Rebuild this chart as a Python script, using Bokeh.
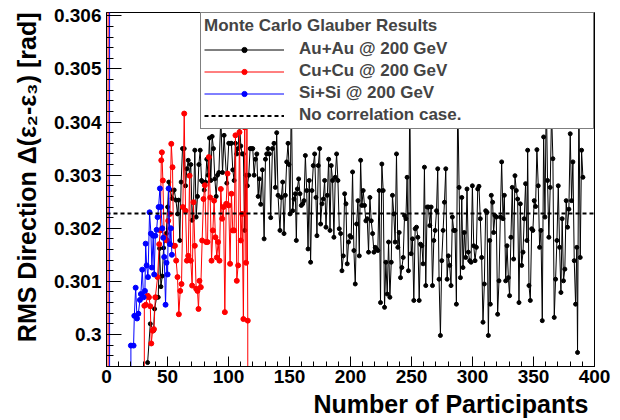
from bokeh.plotting import figure
from bokeh.models import (Range1d, SingleIntervalTicker, NumeralTickFormatter,
                          Legend, LegendItem, Title)
from bokeh.embed import file_html
from bokeh.resources import INLINE

# ---------------- data ----------------
auau_npart = [33.7, 35.9, 38.6, 39.4, 41.1, 42.4, 43.5, 44.6, 45.7, 46.8, 47.9, 49.0, 50.1, 51.1,
              52.2, 53.9, 55.5, 56.9, 58.2, 59.1, 60.1, 61.2, 62.3, 63.7, 64.8, 65.9, 67.0, 68.1,
              69.1, 70.2, 71.3, 72.4, 73.5, 74.6, 75.7, 76.8, 77.9, 79.0, 80.1, 81.2, 82.2, 83.3,
              84.4, 85.5, 86.6, 87.7, 88.8, 89.9, 91.0, 92.1, 93.7, 95.1, 96.4, 98.6, 100.2, 101.3,
              102.4, 103.5, 104.6, 105.7, 106.8, 107.9, 109.0, 110.1, 111.2, 112.2, 113.3, 114.4,
              115.5, 116.6, 117.7, 118.8, 119.9, 121.0, 122.1, 123.2, 124.3, 125.3, 126.4, 127.8,
              129.2, 130.3, 131.3, 132.4, 133.5,
              134.6, 136.0, 137.3, 138.4, 139.5, 140.6, 142.2, 143.3, 144.4, 145.5, 146.6, 147.7,
              148.8, 149.6, 150.4, 151.5, 152.6, 153.7, 154.8, 155.6, 156.4, 157.5, 158.6, 159.7,
              160.8, 161.9, 163.0, 164.1, 165.2, 166.2, 167.3, 168.4, 169.5, 170.6, 171.7, 172.5,
              173.6, 174.7, 175.5, 176.6, 177.7, 178.8, 179.9, 181.0, 182.1, 183.2, 184.2, 185.3,
              186.4, 187.5, 188.6, 189.7, 190.8, 191.9, 193.0, 194.1, 195.2, 196.3, 197.3, 198.4,
              199.5, 200.6, 201.7, 202.8, 203.9, 205.0, 206.1, 207.2, 208.3, 209.3, 210.4, 211.5,
              212.6, 213.7, 214.8, 215.9, 217.0, 218.1, 219.2, 220.3, 221.4, 222.4, 223.5, 224.6,
              225.7, 226.8, 227.9, 229.0, 230.1, 231.2, 232.3, 233.4, 234.4, 235.5, 236.6, 237.7,
              238.8, 239.9, 241.0, 242.1, 243.2, 244.3, 245.4, 246.4, 247.5, 248.6, 249.7, 250.8,
              251.9, 253.0, 254.1, 255.2, 256.3, 257.4, 258.5, 259.5, 260.6, 261.7, 262.8, 263.9,
              265.0, 266.1, 267.2, 268.3, 269.4, 270.5, 271.5, 272.6,
              273.7, 274.8, 275.9, 277.0, 278.1, 279.2, 280.2, 281.3, 282.4, 283.5, 284.6, 285.7,
              286.8, 287.9, 289.0, 290.1, 291.2, 292.2, 293.3, 294.4, 295.5, 296.6, 297.7, 298.8,
              299.9, 301.0, 302.1, 303.2, 304.3, 305.3, 306.4, 307.5, 308.6, 309.7, 310.8, 311.9,
              313.0, 314.1, 314.6, 315.4, 316.5, 317.3, 318.4, 319.5, 320.6, 321.7, 322.8, 323.9,
              325.0, 326.1, 327.2, 328.3, 329.4, 330.4, 331.5, 332.6, 333.7, 334.8, 335.9, 337.0,
              338.1, 339.2, 340.3, 341.4, 342.4, 343.5, 344.6, 345.2, 346.3, 347.4, 348.5, 349.5,
              350.6, 351.7, 352.8, 353.9, 355.0, 356.1, 357.2, 358.3, 359.4, 360.5, 361.5, 362.6,
              363.7, 364.8, 365.9, 367.0, 368.1, 369.2, 370.3, 371.4, 372.5, 373.5, 374.6, 375.7,
              376.8, 377.9, 379.0, 380.1, 381.2, 382.3, 383.4, 384.5, 385.5, 386.1, 387.2, 388.3,
              389.4, 390.5]
auau_rms = [0.29947, 0.30020, 0.30007, 0.30048, 0.30070, 0.30070, 0.30162, 0.30090, 0.30110, 0.30163,
            0.30182, 0.30190, 0.30240, 0.30287, 0.30272, 0.30256, 0.30272, 0.30253, 0.30227, 0.30253,
            0.30177, 0.30287, 0.30350, 0.30350, 0.30280, 0.30312, 0.30328, 0.30300, 0.30320, 0.30215,
            0.30249, 0.30347, 0.30221, 0.30260, 0.30320, 0.30347, 0.30290, 0.30287, 0.30272, 0.30287,
            0.30330, 0.30300, 0.30370, 0.30290, 0.30373, 0.30350, 0.30293, 0.30260, 0.30300, 0.30305,
            0.30410, 0.30305, 0.30375, 0.30285, 0.30360, 0.30360, 0.30360, 0.30310, 0.30290, 0.30360,
            0.30340, 0.30350, 0.30400, 0.30355, 0.30340, 0.30340, 0.30196, 0.30300, 0.30280, 0.30300,
            0.30350, 0.30350, 0.30350, 0.30300, 0.30330, 0.30340, 0.30260, 0.30293, 0.30245, 0.30310,
            0.30180, 0.30330, 0.30340, 0.30350, 0.30340,
            0.30220, 0.30350, 0.30360, 0.30277, 0.30380, 0.30262, 0.30196, 0.30258, 0.30287, 0.30190,
            0.30262, 0.30325, 0.30360, 0.30320, 0.30227, 0.30450, 0.30233, 0.30255, 0.30265, 0.30177,
            0.30274, 0.30293, 0.30265, 0.30243, 0.30246, 0.30252, 0.30337, 0.30271, 0.30161, 0.30290,
            0.30136, 0.30271, 0.30318, 0.30340, 0.30258, 0.30186, 0.30318, 0.30350, 0.30208, 0.30246,
            0.30255, 0.30290, 0.30202, 0.30262, 0.30330, 0.30196, 0.30318, 0.30290, 0.30183, 0.30296,
            0.30340, 0.30290, 0.30199, 0.30190, 0.30120, 0.30148, 0.30265, 0.30246, 0.30133, 0.30174,
            0.30186, 0.30183, 0.30306, 0.30158, 0.30095, 0.30208, 0.30252, 0.30148, 0.30328, 0.30243,
            0.30271, 0.30243, 0.30214, 0.30218, 0.30155, 0.30258, 0.30214, 0.30190, 0.30155, 0.30164,
            0.30161, 0.30158, 0.30271, 0.30060, 0.30321, 0.30271, 0.30051, 0.30136, 0.30076, 0.30174,
            0.30070, 0.30136, 0.30262, 0.30227, 0.30174, 0.30340, 0.30164, 0.30192, 0.30107, 0.30126,
            0.30145, 0.30224, 0.30218, 0.30296, 0.30120, 0.30450, 0.30152, 0.30180, 0.30064, 0.30199,
            0.30202, 0.30183, 0.30064, 0.30170, 0.30167, 0.30133, 0.30315, 0.30092, 0.30240, 0.30240,
            0.30205, 0.30240, 0.30092, 0.30177, 0.30196, 0.30233, 0.30312, 0.30104,
            0.29998, 0.30139, 0.30196, 0.30249, 0.30312, 0.30104, 0.30148, 0.30130, 0.30092, 0.30221,
            0.30196, 0.30196, 0.30057, 0.30450, 0.30277, 0.30107, 0.30258, 0.30126, 0.30192, 0.30145,
            0.30274, 0.30155, 0.30139, 0.30136, 0.30280, 0.30167, 0.30139, 0.30164, 0.30274, 0.30279,
            0.30218, 0.30145, 0.30023, 0.30095, 0.30233, 0.30230, 0.29998, 0.30177, 0.30057, 0.30262,
            0.30249, 0.30192, 0.30224, 0.30221, 0.30038, 0.30101, 0.30221, 0.30325, 0.30218, 0.30262,
            0.30101, 0.30167, 0.30107, 0.30073, 0.30183, 0.30277, 0.30142, 0.30299, 0.30271, 0.30255,
            0.30060, 0.30246, 0.30130, 0.30155, 0.30218, 0.30284, 0.30177, 0.30347, 0.30092, 0.30064,
            0.30199, 0.30196, 0.30252, 0.30241, 0.30348, 0.30280, 0.30164, 0.30196, 0.30026, 0.30372,
            0.30221, 0.30450, 0.30290, 0.30183, 0.30277, 0.30420, 0.30331, 0.30032, 0.30104, 0.30177,
            0.30280, 0.30164, 0.30079, 0.30218, 0.30101, 0.30123, 0.30252, 0.30202, 0.30236, 0.30378,
            0.30252, 0.30325, 0.30139, 0.30057, 0.30164, 0.29966, 0.30450, 0.30145, 0.30347, 0.30296]

cucu_npart = [1.0, 2.0, 30.0, 31.0, 32.3, 33.7, 34.8, 35.9, 36.7, 37.8, 38.9, 40.0, 41.9, 43.2,
              44.1, 44.9, 45.4, 46.2, 47.3, 48.4, 49.5, 50.6, 52.0, 53.1, 54.1, 55.0, 56.1, 57.1,
              58.2, 59.3, 60.4, 61.5, 62.6, 63.7, 64.8, 65.9, 67.0, 68.1, 69.1, 70.2, 71.3, 72.4,
              73.5, 74.6, 75.4, 76.2, 77.3, 78.4, 79.5, 80.6, 81.7, 82.8, 83.9, 85.0, 86.1, 87.2,
              88.2, 89.3, 90.4, 91.5, 92.6, 93.7, 94.8, 95.9, 97.0, 98.1, 99.2, 100.2, 101.3, 102.4,
              103.5, 104.6, 105.7, 106.8, 107.9, 109.0, 110.1, 111.2, 112.2, 113.3, 114.4, 115.1,
              115.8, 117.0]
cucu_rms = [0.45, 0.0, 0.0, 0.30054, 0.30056, 0.30073, 0.30070, 0.30053, 0.29983, 0.30007, 0.30010,
            0.30070, 0.30108, 0.30170, 0.30196, 0.30328, 0.30343, 0.30290, 0.30183, 0.30180, 0.30177,
            0.30214, 0.30227, 0.30359, 0.30315, 0.30167, 0.30167, 0.30139, 0.30108, 0.30038, 0.30082,
            0.30095, 0.30240, 0.30416, 0.30233, 0.30139, 0.30148, 0.30299, 0.30139, 0.30092, 0.30249,
            0.30167, 0.30086, 0.30082, 0.30048, 0.30101, 0.30089, 0.30177, 0.30255, 0.30281, 0.30174,
            0.30174, 0.30334, 0.30258, 0.30139, 0.30196, 0.30252, 0.30183, 0.30145, 0.30174, 0.30139,
            0.30274, 0.30218, 0.30240, 0.30042, 0.30246, 0.30303, 0.30243, 0.30133, 0.30265, 0.30196,
            0.30196, 0.30375, 0.30101, 0.30130, 0.30381, 0.30177, 0.30227, 0.30029, 0.30390, 0.30135,
            0.30394, 0.30026, 0.0]

sisi_npart = [2.3, 3.0, 19.6, 20.0, 22.2, 22.8, 23.9, 25.0, 26.1, 27.4, 28.2, 29.3, 30.4, 31.5,
              32.1, 32.9, 34.0, 35.3, 36.4, 37.2, 38.3, 39.1, 40.0, 41.1, 41.9, 42.7, 43.8, 44.6,
              45.7, 46.5, 47.3, 48.4, 49.2, 50.1, 50.9, 52.0, 52.8, 53.6]
sisi_rms = [0.45, 0.0, 0.0, 0.29979, 0.29979, 0.30035, 0.30088, 0.30030, 0.30039, 0.30065, 0.30076,
            0.30122, 0.30070, 0.30082, 0.30171, 0.30130, 0.30108, 0.30230, 0.30190, 0.30126, 0.30186,
            0.30113, 0.30186, 0.30197, 0.30221, 0.30240, 0.30275, 0.30240, 0.30200, 0.30182, 0.30146,
            0.30056, 0.30135, 0.30113, 0.30275, 0.30170, 0.30200, 0.30150]

no_corr_npart = [0, 400]
no_corr_rms = [0.30228, 0.30228]

series_labels = ["Au+Au @ 200 GeV", "Cu+Cu @ 200 GeV", "Si+Si @ 200 GeV", "No correlation case."]
legend_title = "Monte Carlo Glauber Results"
x_title = "Number of Participants"
y_title = "RMS Direction \u0394(\u03b5\u2082-\u03b5\u2083) [rad]"

# ---------------- figure ----------------
FONT = "Liberation Sans"
p = figure(width=620, height=420, output_backend="svg", toolbar_location=None,
           x_range=Range1d(0, 400), y_range=Range1d(0.299396, 0.306064),
           min_border_left=105, min_border_right=26, min_border_top=12, min_border_bottom=54)
p.background_fill_color = "white"
p.border_fill_color = "white"
p.outline_line_color = "black"
p.outline_line_width = 1
p.outline_line_alpha = 1
p.xgrid.visible = False
p.ygrid.visible = False

p.xaxis.ticker = SingleIntervalTicker(interval=50, num_minor_ticks=5)
p.yaxis.ticker = SingleIntervalTicker(interval=0.001, num_minor_ticks=5)
p.yaxis.formatter = NumeralTickFormatter(format="0.[000]")
for ax in (p.xaxis, p.yaxis):
    ax.axis_line_color = "black"
    ax.major_tick_line_color = "black"
    ax.minor_tick_line_color = "black"
    ax.major_tick_out = 0
    ax.minor_tick_out = 0
    ax.major_label_text_font = FONT
    ax.major_label_text_font_style = "bold"
    ax.major_label_text_font_size = "19px"
    ax.major_label_text_color = "black"
p.xaxis.major_tick_in = 10
p.xaxis.minor_tick_in = 5
p.xaxis.major_label_standoff = 3
p.yaxis.major_tick_in = 15
p.yaxis.minor_tick_in = 7
p.yaxis.major_label_standoff = 5

l_au = p.line(auau_npart, auau_rms, line_color="black", line_width=1)
s_au = p.scatter(auau_npart, auau_rms, size=4, color="black")
l_cu = p.line(cucu_npart, cucu_rms, line_color="red", line_width=1)
s_cu = p.scatter(cucu_npart, cucu_rms, size=5, color="red")
l_si = p.line(sisi_npart, sisi_rms, line_color="blue", line_width=1)
s_si = p.scatter(sisi_npart, sisi_rms, size=5, color="blue")
l_nc = p.line(no_corr_npart, no_corr_rms, line_color="black", line_width=2, line_dash="4 3")

legend = Legend(items=[LegendItem(label=series_labels[0], renderers=[l_au, s_au]),
                       LegendItem(label=series_labels[1], renderers=[l_cu, s_cu]),
                       LegendItem(label=series_labels[2], renderers=[l_si, s_si]),
                       LegendItem(label=series_labels[3], renderers=[l_nc])],
                location="top_right", margin=0, padding=3,
                title=legend_title, title_text_font=FONT, title_text_font_style="bold",
                title_text_font_size="17px", title_standoff=3,
                label_text_font=FONT, label_text_font_style="bold", label_text_font_size="17px",
                label_standoff=15, label_width=291, label_height=18,
                glyph_width=80, glyph_height=13, spacing=2,
                border_line_color="black", border_line_width=1,
                background_fill_color="white", background_fill_alpha=1)
p.add_layout(legend)

p.add_layout(Title(text=x_title, align="right", offset=6, standoff=5,
                   text_font=FONT, text_font_style="bold", text_font_size="25px",
                   text_color="black"), "below")
p.add_layout(Title(text=y_title, align="right", offset=0, standoff=20,
                   text_font=FONT, text_font_style="bold", text_font_size="25px",
                   text_color="black"), "left")

open("out.html", "w").write(file_html(p, INLINE))
